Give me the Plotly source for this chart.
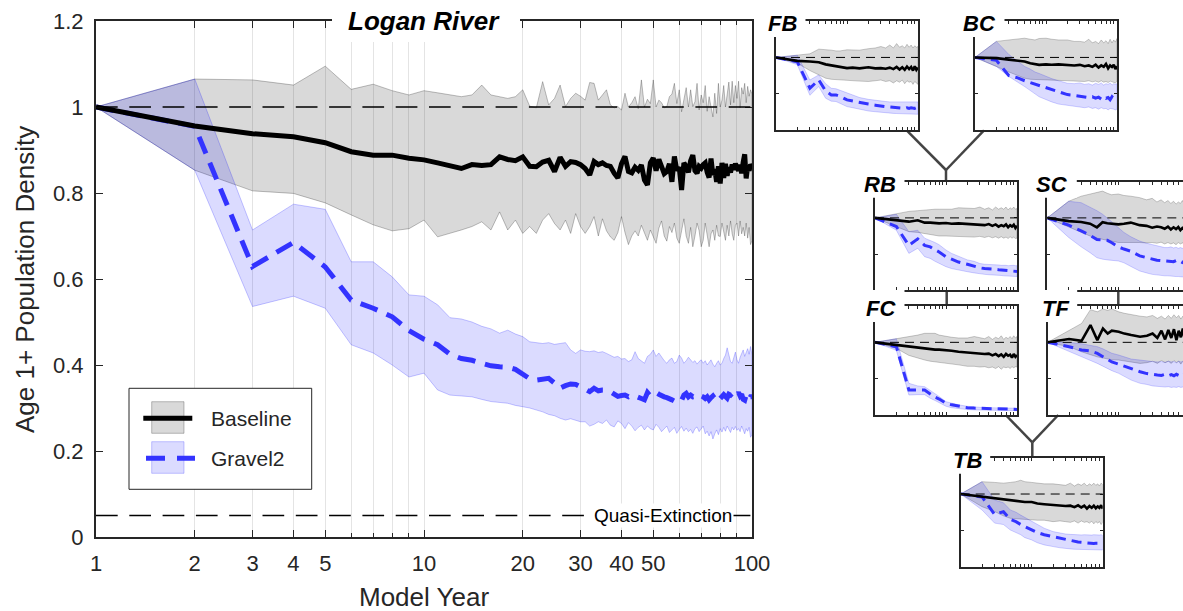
import plotly.graph_objects as go

# ---------------- data: Logan River (main panel) ----------------
YEARS = list(range(1, 101))

B_MEAN = [1.000, 0.956, 0.938, 0.931, 0.917, 0.896, 0.888, 0.888, 0.881, 0.877,
          0.870, 0.863, 0.857, 0.866, 0.864, 0.866, 0.884, 0.878, 0.875, 0.884,
          0.862, 0.861, 0.872, 0.876, 0.850, 0.883, 0.862, 0.873, 0.871, 0.866,
          0.857, 0.842, 0.873, 0.866, 0.870, 0.864, 0.862, 0.846, 0.835, 0.868,
          0.885, 0.850, 0.847, 0.860, 0.853, 0.865, 0.830, 0.819, 0.870, 0.881,
          0.852, 0.878, 0.860, 0.845, 0.850, 0.868, 0.826, 0.885, 0.852, 0.860,
          0.807, 0.870, 0.862, 0.848, 0.875, 0.888, 0.852, 0.846, 0.862, 0.858,
          0.866, 0.870, 0.848, 0.836, 0.880, 0.842, 0.855, 0.826, 0.862, 0.822,
          0.870, 0.835, 0.868, 0.840, 0.860, 0.848, 0.866, 0.854, 0.868, 0.858,
          0.852, 0.866, 0.846, 0.872, 0.890, 0.834, 0.862, 0.852, 0.866, 0.862]
B_HI = [1.000, 1.065, 1.063, 1.051, 1.095, 1.041, 1.053, 1.038, 1.028, 1.038,
        1.033, 1.028, 1.024, 1.028, 1.051, 1.028, 1.024, 1.020, 1.024, 1.040,
        1.002, 0.998, 1.059, 1.005, 1.020, 1.051, 1.001, 1.020, 1.032, 1.025,
        1.016, 1.057, 1.055, 1.016, 1.028, 1.040, 1.005, 0.998, 1.001, 0.993,
        1.032, 1.000, 1.010, 1.024, 0.996, 1.063, 1.000, 1.018, 1.008, 1.063,
        1.000, 1.016, 1.010, 0.998, 1.001, 1.024, 1.030, 1.055, 1.008, 1.040,
        0.989, 1.020, 1.045, 1.000, 1.040, 1.001, 1.012, 1.055, 0.993, 1.028,
        1.010, 1.050, 0.990, 1.024, 1.001, 0.977, 1.032, 0.985, 1.055, 1.000,
        1.016, 1.050, 1.000, 1.032, 1.058, 1.005, 1.060, 1.010, 1.050, 1.020,
        1.060, 0.998, 1.045, 1.030, 1.055, 1.010, 1.048, 1.025, 1.040, 1.030]
B_LO = [1.000, 0.853, 0.805, 0.799, 0.777, 0.749, 0.726, 0.712, 0.717, 0.737,
        0.698, 0.706, 0.714, 0.722, 0.733, 0.714, 0.756, 0.714, 0.737, 0.706,
        0.722, 0.706, 0.737, 0.752, 0.729, 0.714, 0.737, 0.706, 0.752, 0.722,
        0.706, 0.722, 0.745, 0.700, 0.740, 0.712, 0.698, 0.690, 0.708, 0.745,
        0.708, 0.680, 0.700, 0.712, 0.700, 0.725, 0.706, 0.690, 0.714, 0.700,
        0.683, 0.718, 0.735, 0.700, 0.688, 0.722, 0.708, 0.730, 0.695, 0.683,
        0.712, 0.740, 0.700, 0.683, 0.720, 0.675, 0.700, 0.730, 0.712, 0.675,
        0.690, 0.730, 0.700, 0.675, 0.705, 0.714, 0.690, 0.725, 0.700, 0.699,
        0.730, 0.710, 0.690, 0.725, 0.700, 0.735, 0.705, 0.690, 0.725, 0.730,
        0.700, 0.735, 0.705, 0.720, 0.700, 0.730, 0.695, 0.720, 0.680, 0.690]
G_MEAN = [1.000, 0.955, 0.629, 0.685, 0.628, 0.551, 0.532, 0.512, 0.480, 0.460,
          0.447, 0.425, 0.415, 0.411, 0.404, 0.398, 0.396, 0.395, 0.390, 0.380,
          0.368, 0.365, 0.366, 0.369, 0.358, 0.346, 0.352, 0.356, 0.355, 0.350,
          0.344, 0.338, 0.346, 0.340, 0.342, 0.342, 0.338, 0.332, 0.327, 0.329,
          0.330, 0.326, 0.330, 0.328, 0.326, 0.322, 0.319, 0.336, 0.328, 0.333,
          0.336, 0.332, 0.328, 0.326, 0.324, 0.320, 0.319, 0.316, 0.314, 0.312,
          0.318, 0.330, 0.334, 0.326, 0.330, 0.326, 0.327, 0.322, 0.325, 0.328,
          0.326, 0.322, 0.326, 0.319, 0.324, 0.328, 0.322, 0.326, 0.330, 0.322,
          0.325, 0.331, 0.327, 0.323, 0.332, 0.330, 0.334, 0.329, 0.325, 0.330,
          0.336, 0.328, 0.332, 0.320, 0.318, 0.330, 0.324, 0.319, 0.326, 0.326]
G_HI = [1.000, 1.065, 0.714, 0.774, 0.762, 0.640, 0.640, 0.605, 0.563, 0.560,
        0.540, 0.510, 0.507, 0.500, 0.490, 0.484, 0.474, 0.481, 0.472, 0.466,
        0.454, 0.452, 0.450, 0.452, 0.448, 0.450, 0.452, 0.435, 0.427, 0.435,
        0.432, 0.431, 0.433, 0.429, 0.431, 0.427, 0.423, 0.418, 0.420, 0.414,
        0.415, 0.408, 0.412, 0.431, 0.415, 0.410, 0.404, 0.420, 0.425, 0.435,
        0.420, 0.428, 0.418, 0.410, 0.404, 0.412, 0.416, 0.404, 0.408, 0.423,
        0.416, 0.404, 0.410, 0.418, 0.412, 0.406, 0.410, 0.402, 0.408, 0.412,
        0.404, 0.410, 0.400, 0.406, 0.412, 0.402, 0.396, 0.404, 0.410, 0.400,
        0.404, 0.415, 0.423, 0.440, 0.425, 0.408, 0.404, 0.420, 0.430, 0.412,
        0.404, 0.418, 0.425, 0.435, 0.420, 0.430, 0.438, 0.425, 0.443, 0.423]
G_LO = [1.000, 0.853, 0.536, 0.560, 0.532, 0.447, 0.428, 0.400, 0.372, 0.381,
        0.342, 0.330, 0.328, 0.326, 0.320, 0.315, 0.313, 0.311, 0.306, 0.303,
        0.300, 0.296, 0.291, 0.285, 0.282, 0.276, 0.272, 0.275, 0.271, 0.268,
        0.268, 0.258, 0.262, 0.268, 0.264, 0.272, 0.260, 0.256, 0.270, 0.264,
        0.252, 0.266, 0.258, 0.247, 0.255, 0.260, 0.249, 0.258, 0.252, 0.249,
        0.262, 0.255, 0.245, 0.252, 0.258, 0.243, 0.249, 0.255, 0.241, 0.250,
        0.257, 0.246, 0.253, 0.245, 0.250, 0.241, 0.252, 0.256, 0.245, 0.250,
        0.258, 0.240, 0.246, 0.235, 0.245, 0.228, 0.240, 0.249, 0.238, 0.252,
        0.244, 0.255, 0.246, 0.258, 0.250, 0.243, 0.255, 0.249, 0.257, 0.248,
        0.252, 0.245, 0.258, 0.248, 0.240, 0.252, 0.246, 0.255, 0.232, 0.238]

MAIN_XTICKS = [1, 2, 3, 4, 5, 10, 20, 30, 40, 50, 100]
MAIN_XTICK_TEXT = ["1", "2", "3", "4", "5", "10", "20", "30", "40", "50", "100"]
MAIN_XMINOR = [6, 7, 8, 9, 60, 70, 80, 90]
MAIN_YTICKS = [0, 0.2, 0.4, 0.6, 0.8, 1.0, 1.2]
MAIN_YTICK_TEXT = ["0", "0.2", "0.4", "0.6", "0.8", "1", "1.2"]
REF_LEVEL = 1.0
QUASI_EXT = 0.05

# ---------------- data: tributary sub-panels ----------------
S_YEARS = [1, 2, 3, 4, 5, 6, 7, 8, 10, 12, 15, 20, 25, 30, 35, 40, 45, 50, 55, 60,
           65, 70, 75, 80, 85, 90, 95, 100]

FB_B_MEAN = [1.00, 0.953, 0.944, 0.935, 0.905, 0.890, 0.875, 0.868, 0.853, 0.860, 0.850, 0.865, 0.850, 0.853, 0.845, 0.860, 0.840, 0.870, 0.835, 0.865, 0.830, 0.875, 0.840, 0.870, 0.820, 0.880, 0.830, 0.860]
FB_B_HI = [1.00, 1.036, 1.050, 1.114, 1.110, 1.100, 1.090, 1.090, 1.105, 1.100, 1.100, 1.120, 1.130, 1.150, 1.130, 1.170, 1.130, 1.190, 1.140, 1.160, 1.130, 1.180, 1.140, 1.170, 1.130, 1.160, 1.140, 1.150]
FB_B_LO = [1.00, 0.920, 0.820, 0.760, 0.715, 0.700, 0.690, 0.690, 0.692, 0.680, 0.675, 0.670, 0.680, 0.690, 0.670, 0.680, 0.650, 0.680, 0.660, 0.690, 0.640, 0.680, 0.660, 0.670, 0.630, 0.670, 0.650, 0.630]
FB_G_MEAN = [1.00, 0.940, 0.577, 0.692, 0.540, 0.486, 0.486, 0.465, 0.417, 0.400, 0.380, 0.360, 0.345, 0.330, 0.325, 0.320, 0.315, 0.315, 0.310, 0.310, 0.300, 0.310, 0.300, 0.310, 0.305, 0.300, 0.310, 0.305]
FB_G_HI = [1.00, 1.030, 0.690, 0.760, 0.640, 0.577, 0.570, 0.550, 0.509, 0.480, 0.450, 0.425, 0.410, 0.400, 0.395, 0.390, 0.390, 0.385, 0.390, 0.385, 0.380, 0.390, 0.385, 0.380, 0.390, 0.385, 0.380, 0.390]
FB_G_LO = [1.00, 0.900, 0.480, 0.600, 0.440, 0.400, 0.395, 0.370, 0.325, 0.310, 0.285, 0.265, 0.255, 0.245, 0.240, 0.235, 0.232, 0.230, 0.228, 0.227, 0.225, 0.225, 0.223, 0.222, 0.222, 0.221, 0.220, 0.220]

BC_B_MEAN = [1.00, 0.990, 0.970, 0.955, 0.944, 0.920, 0.905, 0.898, 0.905, 0.900, 0.905, 0.898, 0.890, 0.898, 0.880, 0.890, 0.870, 0.900, 0.860, 0.890, 0.870, 0.910, 0.850, 0.890, 0.870, 0.900, 0.840, 0.880]
BC_B_HI = [1.00, 1.220, 1.240, 1.250, 1.264, 1.250, 1.240, 1.260, 1.264, 1.250, 1.240, 1.240, 1.220, 1.220, 1.210, 1.250, 1.200, 1.220, 1.190, 1.240, 1.200, 1.230, 1.190, 1.250, 1.200, 1.240, 1.210, 1.260]
BC_B_LO = [1.00, 0.876, 0.800, 0.750, 0.715, 0.700, 0.700, 0.695, 0.692, 0.690, 0.685, 0.680, 0.680, 0.675, 0.670, 0.680, 0.665, 0.675, 0.660, 0.680, 0.660, 0.670, 0.655, 0.675, 0.665, 0.660, 0.650, 0.670]
BC_G_MEAN = [1.00, 0.960, 0.750, 0.720, 0.680, 0.655, 0.630, 0.610, 0.580, 0.560, 0.530, 0.490, 0.480, 0.470, 0.465, 0.450, 0.460, 0.440, 0.455, 0.430, 0.460, 0.440, 0.450, 0.420, 0.460, 0.435, 0.450, 0.440]
BC_G_HI = [1.00, 1.220, 1.040, 0.950, 0.876, 0.840, 0.800, 0.780, 0.738, 0.710, 0.680, 0.646, 0.640, 0.650, 0.630, 0.640, 0.620, 0.645, 0.630, 0.650, 0.620, 0.640, 0.630, 0.650, 0.620, 0.640, 0.630, 0.640]
BC_G_LO = [1.00, 0.876, 0.738, 0.660, 0.600, 0.550, 0.500, 0.460, 0.417, 0.390, 0.360, 0.340, 0.330, 0.320, 0.310, 0.320, 0.300, 0.310, 0.290, 0.310, 0.295, 0.300, 0.280, 0.300, 0.290, 0.290, 0.280, 0.290]

RB_B_MEAN = [1.00, 0.965, 0.948, 0.968, 0.935, 0.935, 0.930, 0.925, 0.930, 0.920, 0.925, 0.915, 0.910, 0.905, 0.900, 0.915, 0.890, 0.910, 0.880, 0.900, 0.885, 0.910, 0.870, 0.900, 0.880, 0.905, 0.860, 0.890]
RB_B_HI = [1.00, 1.063, 1.090, 1.100, 1.110, 1.110, 1.120, 1.120, 1.120, 1.120, 1.140, 1.140, 1.130, 1.150, 1.120, 1.140, 1.110, 1.150, 1.120, 1.140, 1.120, 1.150, 1.110, 1.140, 1.120, 1.150, 1.120, 1.130]
RB_B_LO = [1.00, 0.879, 0.810, 0.800, 0.787, 0.770, 0.760, 0.750, 0.750, 0.745, 0.740, 0.740, 0.735, 0.745, 0.730, 0.745, 0.725, 0.740, 0.720, 0.740, 0.720, 0.735, 0.715, 0.740, 0.720, 0.735, 0.715, 0.720]
RB_G_MEAN = [1.00, 0.880, 0.620, 0.710, 0.620, 0.600, 0.560, 0.530, 0.464, 0.430, 0.390, 0.360, 0.330, 0.310, 0.300, 0.300, 0.290, 0.290, 0.285, 0.280, 0.280, 0.275, 0.270, 0.270, 0.265, 0.265, 0.260, 0.260]
RB_G_HI = [1.00, 1.050, 0.810, 0.830, 0.720, 0.690, 0.660, 0.630, 0.556, 0.510, 0.470, 0.420, 0.400, 0.370, 0.360, 0.360, 0.355, 0.350, 0.350, 0.345, 0.350, 0.345, 0.340, 0.345, 0.340, 0.345, 0.340, 0.340]
RB_G_LO = [1.00, 0.830, 0.510, 0.580, 0.464, 0.440, 0.400, 0.370, 0.326, 0.300, 0.280, 0.257, 0.240, 0.225, 0.220, 0.215, 0.210, 0.210, 0.205, 0.205, 0.200, 0.200, 0.200, 0.195, 0.195, 0.195, 0.190, 0.190]

SC_B_MEAN = [1.00, 0.955, 0.944, 0.920, 0.870, 0.940, 0.925, 0.920, 0.911, 0.920, 0.935, 0.900, 0.890, 0.865, 0.880, 0.870, 0.850, 0.880, 0.840, 0.870, 0.845, 0.875, 0.830, 0.860, 0.840, 0.870, 0.830, 0.860]
SC_B_HI = [1.00, 1.230, 1.300, 1.330, 1.360, 1.370, 1.340, 1.320, 1.330, 1.310, 1.300, 1.280, 1.250, 1.270, 1.220, 1.250, 1.210, 1.240, 1.200, 1.230, 1.190, 1.220, 1.200, 1.240, 1.190, 1.220, 1.200, 1.210]
SC_B_LO = [1.00, 0.880, 0.800, 0.750, 0.720, 0.700, 0.690, 0.680, 0.660, 0.660, 0.665, 0.660, 0.655, 0.660, 0.650, 0.665, 0.640, 0.660, 0.640, 0.655, 0.630, 0.660, 0.640, 0.655, 0.630, 0.650, 0.630, 0.640]
SC_G_MEAN = [1.00, 0.900, 0.820, 0.760, 0.700, 0.695, 0.690, 0.660, 0.600, 0.570, 0.540, 0.475, 0.450, 0.430, 0.415, 0.410, 0.405, 0.400, 0.405, 0.395, 0.410, 0.390, 0.400, 0.385, 0.400, 0.390, 0.400, 0.390]
SC_G_HI = [1.00, 1.230, 1.210, 1.150, 1.100, 1.050, 1.000, 0.950, 0.866, 0.800, 0.740, 0.680, 0.650, 0.630, 0.610, 0.600, 0.590, 0.590, 0.600, 0.585, 0.595, 0.580, 0.590, 0.580, 0.590, 0.580, 0.585, 0.580]
SC_G_LO = [1.00, 0.730, 0.600, 0.520, 0.450, 0.430, 0.420, 0.410, 0.405, 0.380, 0.330, 0.267, 0.240, 0.220, 0.210, 0.205, 0.200, 0.200, 0.195, 0.195, 0.190, 0.190, 0.190, 0.185, 0.190, 0.185, 0.185, 0.180]

FC_B_MEAN = [1.00, 0.963, 0.940, 0.930, 0.917, 0.910, 0.900, 0.900, 0.894, 0.885, 0.870, 0.860, 0.850, 0.848, 0.840, 0.845, 0.820, 0.840, 0.810, 0.835, 0.800, 0.840, 0.815, 0.830, 0.790, 0.840, 0.800, 0.825]
FC_B_HI = [1.00, 1.050, 1.070, 1.100, 1.124, 1.124, 1.124, 1.100, 1.080, 1.070, 1.060, 1.060, 1.080, 1.060, 1.050, 1.080, 1.040, 1.070, 1.050, 1.090, 1.040, 1.070, 1.050, 1.080, 1.050, 1.090, 1.060, 1.080]
FC_B_LO = [1.00, 0.917, 0.820, 0.780, 0.757, 0.740, 0.730, 0.720, 0.711, 0.700, 0.690, 0.670, 0.670, 0.660, 0.665, 0.650, 0.660, 0.640, 0.665, 0.630, 0.660, 0.650, 0.660, 0.640, 0.665, 0.650, 0.665, 0.660]
FC_G_MEAN = [1.00, 0.940, 0.344, 0.344, 0.344, 0.290, 0.245, 0.220, 0.161, 0.140, 0.120, 0.101, 0.095, 0.092, 0.088, 0.085, 0.083, 0.082, 0.080, 0.080, 0.079, 0.078, 0.078, 0.078, 0.077, 0.077, 0.077, 0.077]
FC_G_HI = [1.00, 1.050, 0.436, 0.400, 0.390, 0.340, 0.290, 0.255, 0.183, 0.160, 0.140, 0.120, 0.110, 0.105, 0.100, 0.100, 0.098, 0.097, 0.096, 0.095, 0.095, 0.095, 0.094, 0.094, 0.094, 0.093, 0.093, 0.093]
FC_G_LO = [1.00, 0.890, 0.275, 0.280, 0.280, 0.230, 0.200, 0.175, 0.120, 0.100, 0.085, 0.075, 0.070, 0.068, 0.066, 0.065, 0.064, 0.063, 0.062, 0.062, 0.061, 0.061, 0.060, 0.060, 0.060, 0.060, 0.060, 0.060]

TF_B_MEAN = [1.00, 1.045, 1.020, 1.238, 1.030, 1.190, 1.120, 1.160, 1.146, 1.120, 1.100, 1.077, 1.090, 1.120, 1.060, 1.160, 1.040, 1.170, 1.060, 1.180, 1.030, 1.160, 1.070, 1.190, 1.040, 1.170, 1.050, 1.120]
TF_B_HI = [1.00, 1.170, 1.260, 1.450, 1.420, 1.460, 1.440, 1.460, 1.420, 1.400, 1.380, 1.360, 1.350, 1.370, 1.330, 1.360, 1.320, 1.370, 1.330, 1.380, 1.340, 1.370, 1.320, 1.360, 1.330, 1.380, 1.340, 1.360]
TF_B_LO = [1.00, 0.940, 0.870, 0.830, 0.800, 0.780, 0.770, 0.760, 0.756, 0.750, 0.730, 0.710, 0.720, 0.740, 0.710, 0.750, 0.720, 0.740, 0.710, 0.750, 0.720, 0.740, 0.700, 0.740, 0.720, 0.750, 0.710, 0.730]
TF_G_MEAN = [1.00, 0.940, 0.894, 0.880, 0.848, 0.800, 0.760, 0.730, 0.700, 0.670, 0.640, 0.595, 0.570, 0.555, 0.550, 0.545, 0.560, 0.540, 0.555, 0.540, 0.560, 0.545, 0.550, 0.535, 0.560, 0.545, 0.550, 0.540]
TF_G_HI = [1.00, 1.000, 0.980, 0.960, 0.940, 0.910, 0.880, 0.850, 0.825, 0.800, 0.770, 0.756, 0.740, 0.735, 0.730, 0.735, 0.725, 0.740, 0.730, 0.735, 0.720, 0.740, 0.730, 0.735, 0.720, 0.740, 0.730, 0.735]
TF_G_LO = [1.00, 0.870, 0.800, 0.750, 0.710, 0.670, 0.640, 0.610, 0.573, 0.530, 0.480, 0.436, 0.420, 0.400, 0.395, 0.390, 0.385, 0.390, 0.380, 0.385, 0.380, 0.390, 0.380, 0.385, 0.375, 0.380, 0.380, 0.375]

TB_B_MEAN = [1.00, 0.963, 0.940, 0.930, 0.918, 0.910, 0.895, 0.890, 0.890, 0.870, 0.860, 0.849, 0.840, 0.835, 0.840, 0.820, 0.845, 0.815, 0.840, 0.800, 0.835, 0.810, 0.840, 0.805, 0.830, 0.810, 0.845, 0.800]
TB_B_HI = [1.00, 1.170, 1.160, 1.150, 1.160, 1.170, 1.190, 1.170, 1.160, 1.150, 1.140, 1.140, 1.130, 1.120, 1.150, 1.110, 1.140, 1.120, 1.150, 1.110, 1.140, 1.120, 1.150, 1.120, 1.140, 1.110, 1.150, 1.130]
TB_B_LO = [1.00, 0.826, 0.760, 0.700, 0.666, 0.660, 0.655, 0.650, 0.643, 0.640, 0.640, 0.620, 0.630, 0.620, 0.610, 0.630, 0.600, 0.630, 0.610, 0.620, 0.600, 0.625, 0.590, 0.620, 0.600, 0.620, 0.580, 0.610]
TB_G_MEAN = [1.00, 0.960, 0.720, 0.757, 0.650, 0.620, 0.580, 0.550, 0.505, 0.470, 0.440, 0.414, 0.390, 0.370, 0.355, 0.345, 0.340, 0.335, 0.330, 0.330, 0.325, 0.325, 0.320, 0.322, 0.320, 0.322, 0.320, 0.322]
TB_G_HI = [1.00, 1.170, 0.918, 0.880, 0.781, 0.750, 0.710, 0.680, 0.620, 0.580, 0.530, 0.483, 0.460, 0.450, 0.445, 0.440, 0.440, 0.437, 0.440, 0.436, 0.438, 0.435, 0.440, 0.437, 0.440, 0.436, 0.440, 0.430]
TB_G_LO = [1.00, 0.780, 0.600, 0.580, 0.505, 0.470, 0.440, 0.400, 0.368, 0.330, 0.300, 0.277, 0.260, 0.250, 0.245, 0.240, 0.238, 0.235, 0.235, 0.233, 0.232, 0.232, 0.231, 0.231, 0.230, 0.230, 0.230, 0.230]

S_XTICKS = [2, 3, 4, 5, 6, 7, 8, 9, 10, 20, 30, 40, 50, 60, 70, 80, 90]
S_YTICKS = [0.5, 1.0]

# ---------------- styling ----------------
W, H = 1183, 611
FONT = "Liberation Sans, Arial, Helvetica, sans-serif"
INK = "#262626"
GRID = "#e4e4e4"
GRAY_FILL = "rgba(0,0,0,0.15)"
GRAY_EDGE = "rgba(0,0,0,0.25)"
BLUE_FILL = "rgba(0,0,255,0.14)"
BLUE_EDGE = "rgba(0,0,255,0.22)"
BLUE = "#3333ff"
CONN = "#444444"


def fx(p):
    return p / W


def fy(p):
    return 1 - p / H


fig = go.Figure()


def add_group(xa, ya, x, b_mean, b_hi, b_lo, g_mean, g_hi, g_lo, bw, gw, gdash, ew):
    xs = list(x) + list(x)[::-1]
    common = dict(mode="lines", xaxis=xa, yaxis=ya, hoverinfo="skip", showlegend=False)
    fig.add_trace(go.Scatter(x=xs, y=list(b_hi) + list(b_lo)[::-1], fill="toself",
                             fillcolor=GRAY_FILL, line=dict(color=GRAY_EDGE, width=ew), **common))
    fig.add_trace(go.Scatter(x=xs, y=list(g_hi) + list(g_lo)[::-1], fill="toself",
                             fillcolor=BLUE_FILL, line=dict(color=BLUE_EDGE, width=ew), **common))
    fig.add_trace(go.Scatter(x=x, y=g_mean, line=dict(color=BLUE, width=gw, dash=gdash), **common))
    fig.add_trace(go.Scatter(x=x, y=b_mean, line=dict(color="black", width=bw), **common))


# main panel
add_group("x", "y", YEARS, B_MEAN, B_HI, B_LO, G_MEAN, G_HI, G_LO, 5, 5, "18px,10px", 1)

PANELS = [
    ("FB", (776, 21, 918, 130.3), FB_B_MEAN, FB_B_HI, FB_B_LO, FB_G_MEAN, FB_G_HI, FB_G_LO),
    ("BC", (975, 21, 1117, 130.3), BC_B_MEAN, BC_B_HI, BC_B_LO, BC_G_MEAN, BC_G_HI, BC_G_LO),
    ("RB", (875, 181.7, 1017, 290.3), RB_B_MEAN, RB_B_HI, RB_B_LO, RB_G_MEAN, RB_G_HI, RB_G_LO),
    ("SC", (1047.3, 181.7, 1189.3, 290.3), SC_B_MEAN, SC_B_HI, SC_B_LO, SC_G_MEAN, SC_G_HI, SC_G_LO),
    ("FC", (875, 306, 1017, 415), FC_B_MEAN, FC_B_HI, FC_B_LO, FC_G_MEAN, FC_G_HI, FC_G_LO),
    ("TF", (1047.7, 306, 1189.7, 415), TF_B_MEAN, TF_B_HI, TF_B_LO, TF_G_MEAN, TF_G_HI, TF_G_LO),
    ("TB", (960.7, 457.7, 1102.7, 566.7), TB_B_MEAN, TB_B_HI, TB_B_LO, TB_G_MEAN, TB_G_HI, TB_G_LO),
]

layout_axes = {}
layout_axes["xaxis"] = dict(
    type="log", domain=[fx(96), fx(752)], range=[0, 2], anchor="y",
    tickmode="array", tickvals=MAIN_XTICKS, ticktext=MAIN_XTICK_TEXT,
    ticks="inside", ticklen=7, tickwidth=1.3, tickcolor=INK,
    showline=True, linecolor=INK, linewidth=2, mirror="ticks",
    showgrid=True, gridcolor=GRID, gridwidth=1, zeroline=False,
    tickfont=dict(family=FONT, size=22, color=INK), ticklabelstandoff=6,
    minor=dict(tickmode="array", tickvals=MAIN_XMINOR, ticks="inside", ticklen=4,
               tickwidth=1.3, tickcolor=INK, showgrid=True, gridcolor=GRID, gridwidth=1),
)
layout_axes["yaxis"] = dict(
    domain=[fy(537), fy(21)], range=[0, 1.2], anchor="x",
    tickmode="array", tickvals=MAIN_YTICKS, ticktext=MAIN_YTICK_TEXT,
    ticks="inside", ticklen=7, tickwidth=1.3, tickcolor=INK,
    showline=True, linecolor=INK, linewidth=2, mirror="ticks",
    showgrid=False, zeroline=False,
    tickfont=dict(family=FONT, size=22, color=INK), ticklabelstandoff=6,
)

shapes = []
annotations = []

# reference lines on main panel
shapes.append(dict(type="line", xref="x domain", yref="y", x0=0, x1=1, y0=REF_LEVEL, y1=REF_LEVEL,
                   line=dict(color="black", width=1.5, dash="21.7px,11.6px"), layer="above"))
shapes.append(dict(type="line", xref="x domain", yref="y", x0=0, x1=1, y0=QUASI_EXT, y1=QUASI_EXT,
                   line=dict(color="black", width=1.5, dash="21.7px,11.6px"), layer="above"))

for i, (name, box, bm, bh, bl, gm, gh, gl) in enumerate(PANELS, start=2):
    left, top, right, bottom = box
    rcut = min(right, W)
    xr = 2 * (rcut - left) / (right - left)
    xa, ya = f"x{i}", f"y{i}"
    add_group(xa, ya, S_YEARS, bm, bh, bl, gm, gh, gl, 2.6, 3, "10px,6px", 0.8)
    layout_axes[f"xaxis{i}"] = dict(
        type="log", domain=[fx(left), fx(rcut)], range=[0, xr], anchor=ya,
        tickmode="array", tickvals=S_XTICKS, showticklabels=False,
        ticks="inside", ticklen=3, tickwidth=1, tickcolor=INK,
        showline=True, linecolor=INK, linewidth=2, mirror="ticks",
        showgrid=False, zeroline=False,
    )
    layout_axes[f"yaxis{i}"] = dict(
        domain=[fy(bottom), fy(top)], range=[0, 1.5], anchor=xa,
        tickmode="array", tickvals=S_YTICKS, showticklabels=False,
        ticks="inside", ticklen=3, tickwidth=1, tickcolor=INK,
        showline=True, linecolor=INK, linewidth=2,
        mirror="ticks" if right <= W else False,
        showgrid=False, zeroline=False,
    )
    shapes.append(dict(type="line", xref=f"{xa} domain", yref=ya, x0=0, x1=1,
                       y0=REF_LEVEL, y1=REF_LEVEL,
                       line=dict(color="black", width=1, dash="9px,6px"), layer="above"))
    # white cut-out for the corner title
    shapes.append(dict(type="rect", xref="paper", yref="paper",
                       x0=fx(left - 14), x1=fx(left + 29.5), y0=fy(top + 16), y1=fy(top - 16),
                       fillcolor="white", line=dict(width=0), layer="above"))
    annotations.append(dict(text=f"<b><i>{name}</i></b>", xref="paper", yref="paper",
                            x=fx(left + 23), y=fy(top + 2.5), xanchor="right", yanchor="middle",
                            showarrow=False, font=dict(family=FONT, size=22, color="black")))

# main title cut-out + title
shapes.append(dict(type="rect", xref="paper", yref="paper", x0=fx(332), x1=fx(520),
                   y0=fy(42), y1=fy(0), fillcolor="white", line=dict(width=0), layer="above"))
annotations.append(dict(text="<b><i>Logan River</i></b>", xref="paper", yref="paper",
                        x=fx(424), y=fy(21), xanchor="center", yanchor="middle", showarrow=False,
                        font=dict(family=FONT, size=26, color="black")))

# quasi-extinction label
annotations.append(dict(text="Quasi-Extinction", xref="paper", yref="y", x=fx(663.5), y=QUASI_EXT,
                        xanchor="center", yanchor="middle", showarrow=False, bgcolor="white",
                        borderpad=1, font=dict(family=FONT, size=19, color="black")))

# axis titles
annotations.append(dict(text="Model Year", xref="paper", yref="paper", x=fx(424), y=fy(597),
                        xanchor="center", yanchor="middle", showarrow=False,
                        font=dict(family=FONT, size=26, color=INK)))
annotations.append(dict(text="Age 1+ Population Density", xref="paper", yref="paper", x=fx(25),
                        y=fy(280), xanchor="center", yanchor="middle", textangle=-90, showarrow=False,
                        font=dict(family=FONT, size=26, color=INK)))

# legend (drawn)
shapes.append(dict(type="rect", xref="paper", yref="paper", x0=fx(129), x1=fx(311.7),
                   y0=fy(489.3), y1=fy(388.3), fillcolor="white",
                   line=dict(color=INK, width=1), layer="above"))
shapes.append(dict(type="rect", xref="paper", yref="paper", x0=fx(151.7), x1=fx(184),
                   y0=fy(433.3), y1=fy(401.7), fillcolor=GRAY_FILL,
                   line=dict(color=GRAY_EDGE, width=1), layer="above"))
shapes.append(dict(type="line", xref="paper", yref="paper", x0=fx(143.3), x1=fx(192.3),
                   y0=fy(418.3), y1=fy(418.3), line=dict(color="black", width=5), layer="above"))
shapes.append(dict(type="rect", xref="paper", yref="paper", x0=fx(151.7), x1=fx(184),
                   y0=fy(473.3), y1=fy(441.7), fillcolor=BLUE_FILL,
                   line=dict(color=BLUE_EDGE, width=1), layer="above"))
shapes.append(dict(type="line", xref="paper", yref="paper", x0=fx(146), x1=fx(195),
                   y0=fy(458.3), y1=fy(458.3),
                   line=dict(color=BLUE, width=5, dash="19px,12px"), layer="above"))
annotations.append(dict(text="Baseline", xref="paper", yref="paper", x=fx(209), y=fy(418),
                        xanchor="left", yanchor="middle", showarrow=False,
                        font=dict(family=FONT, size=21, color=INK)))
annotations.append(dict(text="Gravel2", xref="paper", yref="paper", x=fx(209), y=fy(458),
                        xanchor="left", yanchor="middle", showarrow=False,
                        font=dict(family=FONT, size=21, color=INK)))

# river network connectors
CONNECTORS = [
    ((906.7, 130.3), (946, 170)), ((984, 130.3), (946, 170)), ((946, 170), (946, 181.7)),
    ((946.7, 290.3), (946.7, 306)), ((1118.3, 290.3), (1118.3, 306)),
    ((1005.7, 415), (1032.3, 442.3)), ((1058.3, 415), (1032.3, 442.3)),
    ((1032.3, 442.3), (1032.3, 457.7)),
]
for (a, b) in CONNECTORS:
    shapes.append(dict(type="line", xref="paper", yref="paper", x0=fx(a[0]), y0=fy(a[1]),
                       x1=fx(b[0]), y1=fy(b[1]), line=dict(color=CONN, width=2.5), layer="below"))

fig.update_layout(
    width=W, height=H, margin=dict(l=0, r=0, t=0, b=0, pad=0),
    paper_bgcolor="white", plot_bgcolor="white", template="none",
    showlegend=False, font=dict(family=FONT, color=INK),
    shapes=shapes, annotations=annotations, **layout_axes,
)

fig.write_html("out.html")
